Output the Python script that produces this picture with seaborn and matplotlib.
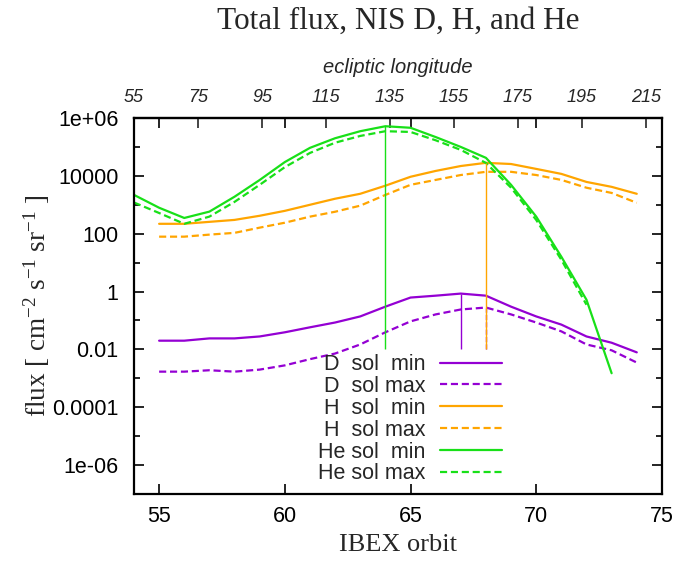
import numpy as np
import pandas as pd
import matplotlib
matplotlib.use('Agg')
import matplotlib.pyplot as plt
import seaborn as sns
from matplotlib.ticker import FixedLocator, FixedFormatter, NullFormatter

# --- data ---
orbits = list(range(55, 75))
orbits_he_min = list(range(54, 74))
orbits_he_max = list(range(54, 73))

d_sol_min = [0.020, 0.020, 0.024, 0.024, 0.028, 0.039, 0.058, 0.085, 0.138, 0.30,
             0.62, 0.72, 0.85, 0.72, 0.30, 0.138, 0.072, 0.028, 0.017, 0.0079]
d_sol_max = [0.0017, 0.0017, 0.0019, 0.0017, 0.0020, 0.0028, 0.0046, 0.0072, 0.0148, 0.039,
             0.093, 0.162, 0.24, 0.28, 0.162, 0.085, 0.042, 0.0148, 0.0093, 0.0035]
h_sol_min = [220, 220, 257, 300, 417, 617, 1000, 1620, 2400, 4570,
             9300, 14800, 21900, 28200, 25700, 17400, 11700, 6170, 4170, 2400]
h_sol_max = [79, 79, 93, 107, 162, 240, 389, 575, 933, 2190,
             4900, 7240, 10700, 13800, 13800, 10700, 7240, 3890, 2570, 1170]
he_sol_min = [2200, 790, 350, 580, 1900, 7200, 30000, 93000, 200000, 350000,
              520000, 460000, 220000, 100000, 42000, 4900, 390, 16, 0.52, 0.0015]
he_sol_max = [1200, 520, 220, 390, 1260, 4900, 20000, 62000, 140000, 240000,
              350000, 330000, 170000, 79000, 28000, 3900, 300, 12.6, 0.35]

# orbits of the peak markers (D min, D max, H min, He min)
peak_orbits = [67, 68, 68, 64]
peak_base = 0.01

ytick_vals = [1e6, 1e4, 1e2, 1, 1e-2, 1e-4, 1e-6]
ytick_labels = ['1e+06', '10000', '100', '1', '0.01', '0.0001', '1e-06']
lon_ticks = [55, 75, 95, 115, 135, 155, 175, 195, 215]

PURPLE = '#9400d3'
ORANGE = '#ffa500'
GREEN = '#18e018'

sns.set_style('ticks')
plt.rcParams['font.family'] = ['Liberation Sans', 'DejaVu Sans']
plt.rcParams['mathtext.fontset'] = 'custom'
plt.rcParams['mathtext.rm'] = 'Liberation Serif'
plt.rcParams['mathtext.default'] = 'rm'

series = [
    ('D  sol  min', orbits, d_sol_min, PURPLE, '-'),
    ('D  sol max', orbits, d_sol_max, PURPLE, '--'),
    ('H  sol  min', orbits, h_sol_min, ORANGE, '-'),
    ('H  sol max', orbits, h_sol_max, ORANGE, '--'),
    ('He sol  min', orbits_he_min, he_sol_min, GREEN, '-'),
    ('He sol max', orbits_he_max, he_sol_max, GREEN, '--'),
]

fig = plt.figure(figsize=(6.96, 5.62), dpi=100)
ax = fig.add_axes([0.1925, 0.121, 0.7585, 0.669])

for label, xs, ys, col, ls in series:
    df = pd.DataFrame({'orbit': xs, 'flux': ys})
    if ls == '--':
        sns.lineplot(data=df, x='orbit', y='flux', ax=ax, color=col, label=label,
                     errorbar=None, linewidth=1.6, dashes=(3.2, 1.7))
    else:
        sns.lineplot(data=df, x='orbit', y='flux', ax=ax, color=col, label=label,
                     errorbar=None, linewidth=1.6)

# vertical peak markers
peak_src = [
    (orbits, d_sol_min, PURPLE, '-'),
    (orbits, d_sol_max, PURPLE, '--'),
    (orbits, h_sol_min, ORANGE, '-'),
    (orbits_he_min, he_sol_min, GREEN, '-'),
]
for po, (xs, ys, col, ls) in zip(peak_orbits, peak_src):
    top = ys[xs.index(po)]
    ax.vlines(po, peak_base, top, colors=col, linestyles=ls, linewidth=1.0)

ax.set_yscale('log')
ax.set_xlim(54, 75)
ax.set_ylim(1e-7, 1e6)

ax.yaxis.set_major_locator(FixedLocator(ytick_vals))
ax.yaxis.set_major_formatter(FixedFormatter(ytick_labels))
ax.yaxis.set_minor_locator(FixedLocator([1e5, 1e3, 1e1, 1e-1, 1e-3, 1e-5]))
ax.yaxis.set_minor_formatter(NullFormatter())
ax.set_xticks([55, 60, 65, 70, 75])

ax.tick_params(which='both', direction='in', top=True, right=True,
               labelsize=15.5, width=1.2, colors='black')
ax.tick_params(which='major', length=7)
ax.tick_params(which='minor', length=4)
ax.tick_params(axis='x', pad=9)
ax.tick_params(axis='y', pad=11)
for s in ax.spines.values():
    s.set_linewidth(1.6)
    s.set_color('black')

ax.set_xlabel('IBEX orbit', family='Liberation Serif', fontsize=19, labelpad=5)
ax.set_ylabel(r'flux [ cm$^{-2}$ s$^{-1}$ sr$^{-1}$ ]', family='Liberation Serif',
              fontsize=19.5, labelpad=0)
fig.text(0.5718, 1 - 29 / 562, 'Total flux, NIS D, H, and He', family='Liberation Serif',
         fontsize=22.5, ha='center', va='baseline')

# secondary axis: ecliptic longitude
deg_per_orbit = 7.856
sec = ax.secondary_xaxis('top', functions=(lambda o: 55 + (o - 54) * deg_per_orbit,
                                           lambda l: 54 + (l - 55) / deg_per_orbit))
sec.set_xticks(lon_ticks)
sec.tick_params(direction='in', length=7, width=1.2, labelsize=13, pad=9)
for t in sec.get_xticklabels():
    t.set_style('italic')
sec.spines['top'].set_linewidth(1.6)
sec.set_xlabel('ecliptic longitude', fontsize=14.5, style='italic', labelpad=11)

ax.legend(loc='upper right', bbox_to_anchor=(0.697, 0.372), frameon=False,
          markerfirst=False, fontsize=15.5, handlelength=2.9, handletextpad=0.65,
          labelspacing=0.04, borderaxespad=0, borderpad=0)

fig.savefig('out.png', dpi=100)
